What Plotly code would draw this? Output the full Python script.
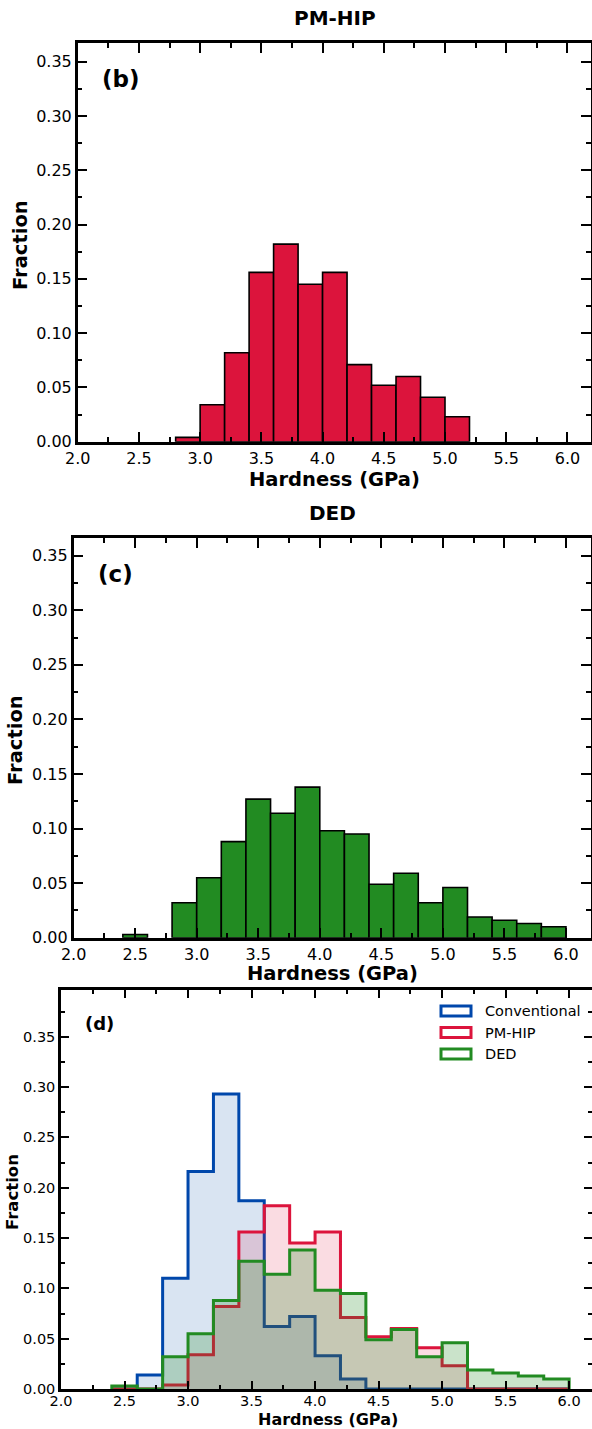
import plotly.graph_objects as go

# ---------------- data ----------------
bin_left = [2.4, 2.6, 2.8, 3.0, 3.2, 3.4, 3.6, 3.8, 4.0, 4.2,
            4.4, 4.6, 4.8, 5.0, 5.2, 5.4, 5.6, 5.8]
bin_width = 0.2

conventional = [0.000, 0.014, 0.110, 0.216, 0.293, 0.187, 0.062, 0.072, 0.033,
                0.010, 0.000, 0.000, 0.000, 0.000, 0.000, 0.000, 0.000, 0.000]
pm_hip = [0.000, 0.000, 0.004, 0.034, 0.082, 0.156, 0.182, 0.145, 0.156,
          0.071, 0.052, 0.060, 0.041, 0.023, 0.000, 0.000, 0.000, 0.000]
ded = [0.003, 0.000, 0.032, 0.055, 0.088, 0.127, 0.114, 0.138, 0.098,
       0.095, 0.049, 0.059, 0.032, 0.046, 0.019, 0.016, 0.013, 0.010]

series_names = ["Conventional", "PM-HIP", "DED"]
x_ticks = [2.0, 2.5, 3.0, 3.5, 4.0, 4.5, 5.0, 5.5, 6.0]
y_ticks = [0.00, 0.05, 0.10, 0.15, 0.20, 0.25, 0.30, 0.35]

# ---------------- layout constants ----------------
W, H = 592, 1429
FONT = "DejaVu Sans"
BLUE = "#0047AB"
RED = "#DC143C"
GREEN = "#228B22"


def px_x(p):
    return p / W


def px_y(p):
    return 1 - p / H


def nonzero(vals):
    xs = [b + bin_width / 2 for b, v in zip(bin_left, vals) if v > 0]
    ys = [v for v in vals if v > 0]
    return xs, ys


fig = go.Figure()

# panel (b) PM-HIP bars
bx, by = nonzero(pm_hip)
fig.add_trace(go.Bar(x=bx, y=by, width=bin_width,
                     marker=dict(color=RED, line=dict(color="black", width=1.6)),
                     xaxis="x", yaxis="y", showlegend=False))
# panel (c) DED bars
cx, cy = nonzero(ded)
fig.add_trace(go.Bar(x=cx, y=cy, width=bin_width,
                     marker=dict(color=GREEN, line=dict(color="black", width=1.6)),
                     xaxis="x2", yaxis="y2", showlegend=False))


def step_xy(vals):
    right = bin_left[-1] + bin_width
    xs = [bin_left[0]] + list(bin_left) + [right, right]
    ys = [0] + list(vals) + [vals[-1], 0]
    return xs, ys


fills = {"Conventional": "rgba(0,71,171,0.15)",
         "PM-HIP": "rgba(220,20,60,0.15)",
         "DED": "rgba(34,139,34,0.24)"}
lines = {"Conventional": BLUE, "PM-HIP": RED, "DED": GREEN}
for name, vals in zip(series_names, [conventional, pm_hip, ded]):
    xs, ys = step_xy(vals)
    fig.add_trace(go.Scatter(x=xs, y=ys, mode="lines", line_shape="hv",
                             line=dict(color=lines[name], width=3),
                             fill="tozeroy", fillcolor=fills[name],
                             name=name, xaxis="x3", yaxis="y3", showlegend=False))


def xaxis(domain, rng, anchor, tick_size, major_len, minor_len, standoff=0):
    return dict(domain=domain, range=rng, anchor=anchor, automargin=False,
                tickmode="array", tickvals=x_ticks,
                ticktext=[f"{v:.1f}" for v in x_ticks],
                ticks="inside", ticklen=major_len, tickwidth=2, tickcolor="black",
                ticklabelstandoff=standoff,
                minor=dict(ticks="inside", dtick=0.25, tick0=2.0, ticklen=minor_len,
                           tickwidth=2, tickcolor="black", showgrid=False),
                showline=True, linecolor="black", linewidth=2.5, mirror="allticks",
                showgrid=False, zeroline=False,
                tickfont=dict(family=FONT, size=tick_size, color="black"))


def yaxis(domain, rng, anchor, tick_size, major_len, minor_len):
    return dict(domain=domain, range=rng, anchor=anchor, automargin=False,
                tickmode="array", tickvals=y_ticks,
                ticktext=[f"{v:.2f}" for v in y_ticks],
                ticks="inside", ticklen=major_len, tickwidth=2, tickcolor="black",
                minor=dict(ticks="inside", dtick=0.025, tick0=0.0, ticklen=minor_len,
                           tickwidth=2, tickcolor="black", showgrid=False),
                showline=True, linecolor="black", linewidth=2.5, mirror="allticks",
                showgrid=False, zeroline=False,
                tickfont=dict(family=FONT, size=tick_size, color="black"))


# pixel frames
b_l, b_r, b_t, b_b = 77.7, 590.7, 43.3, 441.7
c_l, c_r, c_t, c_b = 73.6, 590.6, 538.3, 937.7
d_l, d_r, d_t, d_b = 61.0, 592.0, 990.0, 1389.0

fig.update_layout(
    width=W, height=H,
    margin=dict(l=0, r=0, t=0, b=0, autoexpand=False),
    paper_bgcolor="white", plot_bgcolor="white",
    font=dict(family=FONT, color="black"),
    xaxis=xaxis([px_x(b_l), px_x(b_r)], [2.0, 6.19], "y", 16, 10, 5),
    yaxis=yaxis([px_y(b_b), px_y(b_t)], [0, 0.367], "x", 16, 10, 5),
    xaxis2=xaxis([px_x(c_l), px_x(c_r)], [2.0, 6.2], "y2", 16, 10, 5),
    yaxis2=yaxis([px_y(c_b), px_y(c_t)], [0, 0.366], "x2", 16, 10, 5),
    xaxis3=xaxis([px_x(d_l), px_x(d_r)], [2.0, 6.18], "y3", 14.5, 8, 4, standoff=-3),
    yaxis3=yaxis([px_y(d_b), px_y(d_t)], [0, 0.3964], "x3", 14.5, 8, 4),
    showlegend=False,
)

ann = []


def text(x, y, s, size, bold=False, angle=0, xanchor="center"):
    ann.append(dict(x=px_x(x), y=px_y(y), xref="paper", yref="paper",
                    text=f"<b>{s}</b>" if bold else s, showarrow=False,
                    textangle=angle, xanchor=xanchor, yanchor="middle",
                    font=dict(family=FONT, size=size, color="black")))


# panel b
text(335, 18, "PM-HIP", 20, bold=True)
text(100, 79, "(b)", 23, bold=True, xanchor="left")
text(334.5, 479, "Hardness (GPa)", 19.5, bold=True)
text(20, 245, "Fraction", 19.5, bold=True, angle=-90)
# panel c
text(332, 513, "DED", 20, bold=True)
text(96, 574, "(c)", 23, bold=True, xanchor="left")
text(332, 973, "Hardness (GPa)", 19.5, bold=True)
text(16, 740, "Fraction", 19.5, bold=True, angle=-90)
# panel d
text(83, 1023, "(d)", 18, bold=True, xanchor="left")
text(328, 1419.5, "Hardness (GPa)", 16, bold=True)
text(12, 1192, "Fraction", 16.5, bold=True, angle=-90)

# manual legend for panel d
shapes = []
leg_rows = [1011, 1032.5, 1054]
for name, yy in zip(series_names, leg_rows):
    shapes.append(dict(type="rect", xref="paper", yref="paper",
                       x0=px_x(441), x1=px_x(471), y0=px_y(yy + 5), y1=px_y(yy - 5),
                       line=dict(color=lines[name], width=3), fillcolor="white"))
    text(483, yy, name, 14.5, xanchor="left")

fig.update_layout(annotations=ann, shapes=shapes)

fig.write_html(
    "out.html",
    config={"displayModeBar": False},
    post_script="document.body.style.margin='0';document.body.style.overflow='hidden';",
)
